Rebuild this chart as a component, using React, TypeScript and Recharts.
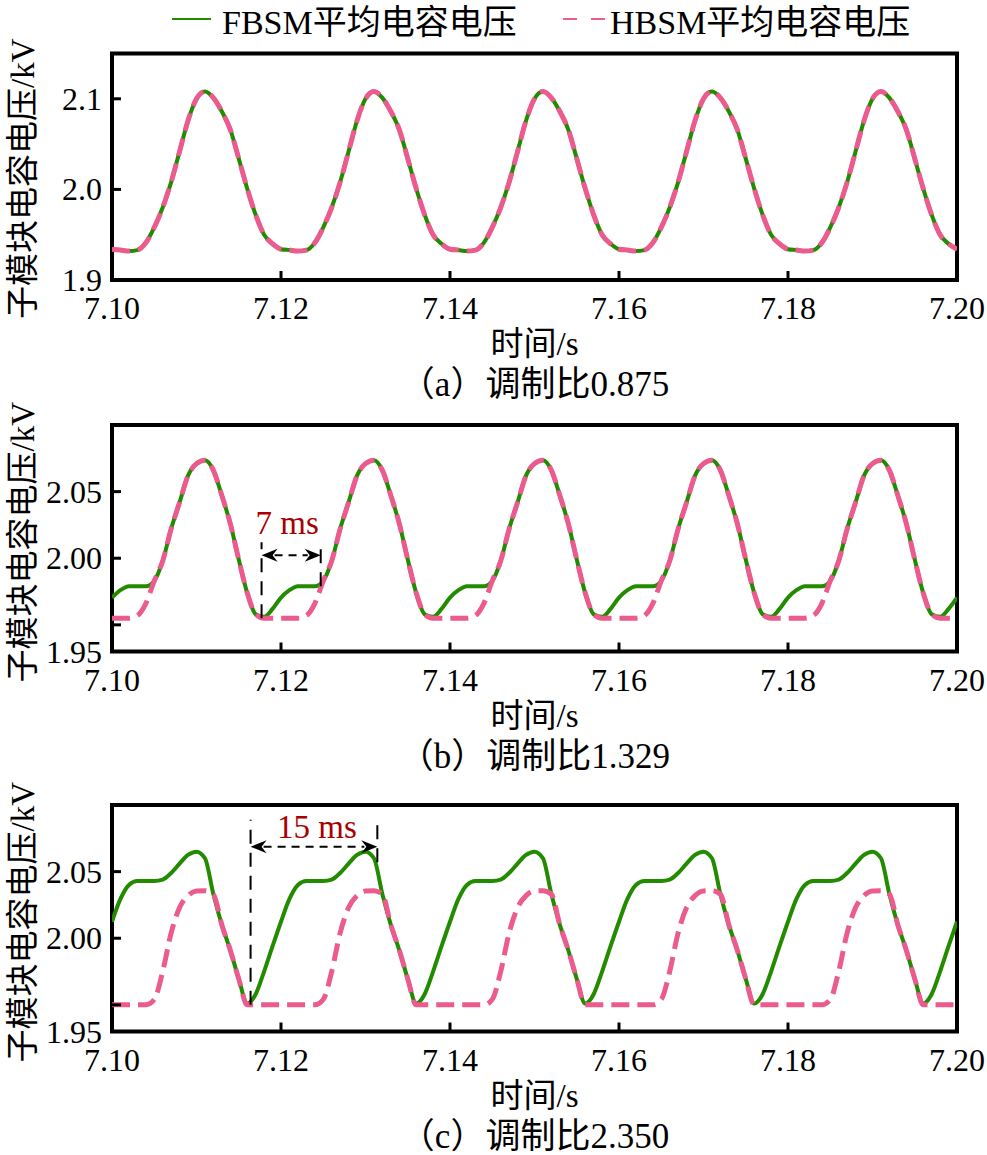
import React from 'react';
import {
  LineChart,
  Line,
  XAxis,
  YAxis,
  ReferenceArea,
  ReferenceLine,
  ReferenceDot,
  Legend,
} from 'recharts';

// ---------- data (time in s, voltage in kV) ----------
const timeS = [
  7.100, 7.101, 7.102, 7.103, 7.104, 7.105, 7.106, 7.107, 7.108, 7.109,
  7.110, 7.111, 7.112, 7.113, 7.114, 7.115, 7.116, 7.117, 7.118, 7.119,
  7.120, 7.121, 7.122, 7.123, 7.124, 7.125, 7.126, 7.127, 7.128, 7.129,
  7.130, 7.131, 7.132, 7.133, 7.134, 7.135, 7.136, 7.137, 7.138, 7.139,
  7.140, 7.141, 7.142, 7.143, 7.144, 7.145, 7.146, 7.147, 7.148, 7.149,
  7.150, 7.151, 7.152, 7.153, 7.154, 7.155, 7.156, 7.157, 7.158, 7.159,
  7.160, 7.161, 7.162, 7.163, 7.164, 7.165, 7.166, 7.167, 7.168, 7.169,
  7.170, 7.171, 7.172, 7.173, 7.174, 7.175, 7.176, 7.177, 7.178, 7.179,
  7.180, 7.181, 7.182, 7.183, 7.184, 7.185, 7.186, 7.187, 7.188, 7.189,
  7.190, 7.191, 7.192, 7.193, 7.194, 7.195, 7.196, 7.197, 7.198, 7.199,
  7.200,
];

// (a) modulation ratio 0.875
const aFbsm = [
  1.934, 1.933, 1.932, 1.933, 1.941, 1.958, 1.980, 2.008, 2.042, 2.076, 2.100, 2.108, 2.101, 2.086, 2.066, 2.034, 2.001, 1.972, 1.950, 1.940,
  1.934, 1.933, 1.932, 1.933, 1.941, 1.958, 1.980, 2.008, 2.042, 2.076, 2.100, 2.108, 2.101, 2.086, 2.066, 2.034, 2.001, 1.972, 1.950, 1.940,
  1.934, 1.933, 1.932, 1.933, 1.941, 1.958, 1.980, 2.008, 2.042, 2.076, 2.100, 2.108, 2.101, 2.086, 2.066, 2.034, 2.001, 1.972, 1.950, 1.940,
  1.934, 1.933, 1.932, 1.933, 1.941, 1.958, 1.980, 2.008, 2.042, 2.076, 2.100, 2.108, 2.101, 2.086, 2.066, 2.034, 2.001, 1.972, 1.950, 1.940,
  1.934, 1.933, 1.932, 1.933, 1.941, 1.958, 1.980, 2.008, 2.042, 2.076, 2.100, 2.108, 2.101, 2.086, 2.066, 2.034, 2.001, 1.972, 1.950, 1.940,
  1.934,
];
const aHbsm = [
  1.934, 1.933, 1.932, 1.933, 1.941, 1.958, 1.980, 2.008, 2.042, 2.076, 2.100, 2.108, 2.101, 2.086, 2.066, 2.034, 2.001, 1.972, 1.950, 1.940,
  1.934, 1.933, 1.932, 1.933, 1.941, 1.958, 1.980, 2.008, 2.042, 2.076, 2.100, 2.108, 2.101, 2.086, 2.066, 2.034, 2.001, 1.972, 1.950, 1.940,
  1.934, 1.933, 1.932, 1.933, 1.941, 1.958, 1.980, 2.008, 2.042, 2.076, 2.100, 2.108, 2.101, 2.086, 2.066, 2.034, 2.001, 1.972, 1.950, 1.940,
  1.934, 1.933, 1.932, 1.933, 1.941, 1.958, 1.980, 2.008, 2.042, 2.076, 2.100, 2.108, 2.101, 2.086, 2.066, 2.034, 2.001, 1.972, 1.950, 1.940,
  1.934, 1.933, 1.932, 1.933, 1.941, 1.958, 1.980, 2.008, 2.042, 2.076, 2.100, 2.108, 2.101, 2.086, 2.066, 2.034, 2.001, 1.972, 1.950, 1.940,
  1.934,
];

// (b) modulation ratio 1.329
const bFbsm = [
  1.9705, 1.976, 1.979, 1.979, 1.979, 1.983, 1.998, 2.022, 2.042, 2.062, 2.071, 2.0735, 2.066, 2.047, 2.026, 1.999, 1.974, 1.958, 1.956, 1.962,
  1.9705, 1.976, 1.979, 1.979, 1.979, 1.983, 1.998, 2.022, 2.042, 2.062, 2.071, 2.0735, 2.066, 2.047, 2.026, 1.999, 1.974, 1.958, 1.956, 1.962,
  1.9705, 1.976, 1.979, 1.979, 1.979, 1.983, 1.998, 2.022, 2.042, 2.062, 2.071, 2.0735, 2.066, 2.047, 2.026, 1.999, 1.974, 1.958, 1.956, 1.962,
  1.9705, 1.976, 1.979, 1.979, 1.979, 1.983, 1.998, 2.022, 2.042, 2.062, 2.071, 2.0735, 2.066, 2.047, 2.026, 1.999, 1.974, 1.958, 1.956, 1.962,
  1.9705, 1.976, 1.979, 1.979, 1.979, 1.983, 1.998, 2.022, 2.042, 2.062, 2.071, 2.0735, 2.066, 2.047, 2.026, 1.999, 1.974, 1.958, 1.956, 1.962,
  1.9705,
];
const bHbsm = [
  1.955, 1.955, 1.955, 1.957, 1.966, 1.983, 1.998, 2.022, 2.042, 2.062, 2.071, 2.0735, 2.066, 2.047, 2.026, 1.999, 1.974, 1.958, 1.955, 1.955,
  1.955, 1.955, 1.955, 1.957, 1.966, 1.983, 1.998, 2.022, 2.042, 2.062, 2.071, 2.0735, 2.066, 2.047, 2.026, 1.999, 1.974, 1.958, 1.955, 1.955,
  1.955, 1.955, 1.955, 1.957, 1.966, 1.983, 1.998, 2.022, 2.042, 2.062, 2.071, 2.0735, 2.066, 2.047, 2.026, 1.999, 1.974, 1.958, 1.955, 1.955,
  1.955, 1.955, 1.955, 1.957, 1.966, 1.983, 1.998, 2.022, 2.042, 2.062, 2.071, 2.0735, 2.066, 2.047, 2.026, 1.999, 1.974, 1.958, 1.955, 1.955,
  1.955, 1.955, 1.955, 1.957, 1.966, 1.983, 1.998, 2.022, 2.042, 2.062, 2.071, 2.0735, 2.066, 2.047, 2.026, 1.999, 1.974, 1.958, 1.955, 1.955,
  1.955,
];

// (c) modulation ratio 2.350
const cFbsm = [
  2.0124, 2.0295, 2.040, 2.043, 2.043, 2.043, 2.044, 2.049, 2.056, 2.0625, 2.065, 2.060, 2.033, 2.010, 1.991, 1.9695, 1.951, 1.958, 1.975, 1.994,
  2.0124, 2.0295, 2.040, 2.043, 2.043, 2.043, 2.044, 2.049, 2.056, 2.0625, 2.065, 2.060, 2.033, 2.010, 1.991, 1.9695, 1.951, 1.958, 1.975, 1.994,
  2.0124, 2.0295, 2.040, 2.043, 2.043, 2.043, 2.044, 2.049, 2.056, 2.0625, 2.065, 2.060, 2.033, 2.010, 1.991, 1.9695, 1.951, 1.958, 1.975, 1.994,
  2.0124, 2.0295, 2.040, 2.043, 2.043, 2.043, 2.044, 2.049, 2.056, 2.0625, 2.065, 2.060, 2.033, 2.010, 1.991, 1.9695, 1.951, 1.958, 1.975, 1.994,
  2.0124, 2.0295, 2.040, 2.043, 2.043, 2.043, 2.044, 2.049, 2.056, 2.0625, 2.065, 2.060, 2.033, 2.010, 1.991, 1.9695, 1.951, 1.958, 1.975, 1.994,
  2.0124,
];
const cHbsm = [
  1.950, 1.950, 1.950, 1.950, 1.950, 1.954, 1.975, 2.004, 2.023, 2.032, 2.0355, 2.0357, 2.033, 2.010, 1.991, 1.9695, 1.950, 1.950, 1.950, 1.950,
  1.950, 1.950, 1.950, 1.950, 1.950, 1.954, 1.975, 2.004, 2.023, 2.032, 2.0355, 2.0357, 2.033, 2.010, 1.991, 1.9695, 1.950, 1.950, 1.950, 1.950,
  1.950, 1.950, 1.950, 1.950, 1.950, 1.954, 1.975, 2.004, 2.023, 2.032, 2.0355, 2.0357, 2.033, 2.010, 1.991, 1.9695, 1.950, 1.950, 1.950, 1.950,
  1.950, 1.950, 1.950, 1.950, 1.950, 1.954, 1.975, 2.004, 2.023, 2.032, 2.0355, 2.0357, 2.033, 2.010, 1.991, 1.9695, 1.950, 1.950, 1.950, 1.950,
  1.950, 1.950, 1.950, 1.950, 1.950, 1.954, 1.975, 2.004, 2.023, 2.032, 2.0355, 2.0357, 2.033, 2.010, 1.991, 1.9695, 1.950, 1.950, 1.950, 1.950,
  1.950,
];

// ---------- axes & text ----------
const xTickValues = [7.10, 7.12, 7.14, 7.16, 7.18, 7.20];
const xTickLabels = ['7.10', '7.12', '7.14', '7.16', '7.18', '7.20'];
const yTicksA = [1.9, 2.0, 2.1];
const yTickLabelsA = ['1.9', '2.0', '2.1'];
const yTicksBC = [1.95, 2.0, 2.05];
const yTickLabelsBC = ['1.95', '2.00', '2.05'];
const seriesNames = ['FBSM平均电容电压', 'HBSM平均电容电压'];
const xTitle = '时间/s';
const yTitle = '子模块电容电压/kV';
const captions = ['（a）调制比0.875', '（b）调制比1.329', '（c）调制比2.350'];

// interval annotations: [start, end] in s, heights in kV
const gapB = { from: 7.1177, to: 7.1247, lowFrom: 1.955, lowTo: 1.979, top: 2.012, arrow: 2.0022, text: 2.018, label: '7 ms' };
const gapC = { from: 7.1164, to: 7.1314, lowFrom: 1.950, lowTo: 2.057, top: 2.089, arrow: 2.0687, text: 2.0752, label: '15 ms' };

// ---------- style ----------
const FONT = "'Liberation Serif', 'Noto Sans CJK SC', serif";
const GREEN = '#228B00';
const PINK = '#EC5B8E';
const NOTE_RED = '#A80000';
const CHART_W = 987;
const Y_AXIS_W = 112;
const RIGHT_GAP = 30;
const PLOT_H = 226.5;
const X_AXIS_H = 140;

const makeRows = (fb: number[], hb: number[]) =>
  timeS.map((t, i) => ({ t, fbsm: fb[i], hbsm: hb[i] }));

const makeXTick = () => (props: any) => {
  const { x, y, index } = props;
  return (
    <g>
      <line x1={x} x2={x} y1={y} y2={y - 9} stroke="#000" strokeWidth={3} />
      <text x={x} y={y + 39} textAnchor="middle" fontFamily={FONT} fontSize={32} fill="#000">
        {xTickLabels[index]}
      </text>
    </g>
  );
};

const makeYTick = (labels: string[], floorY?: number) => (props: any) => {
  const { x, y, index } = props;
  const labelY = floorY !== undefined && index === 0 ? floorY : y;
  return (
    <g>
      <line x1={x} x2={x + 9} y1={y} y2={y} stroke="#000" strokeWidth={3} />
      <text x={x - 10} y={labelY + 11} textAnchor="end" fontFamily={FONT} fontSize={32} fill="#000">
        {labels[index]}
      </text>
    </g>
  );
};

const YTitle = ({ viewBox, shift }: any) => {
  const cx = 34;
  const cy = viewBox.y + viewBox.height / 2 + shift;
  return (
    <text
      x={cx}
      y={cy}
      transform={`rotate(-90, ${cx}, ${cy})`}
      textAnchor="middle"
      fontFamily={FONT}
      fontSize={33}
      fill="#000"
    >
      {yTitle}
    </text>
  );
};

const XTitle = ({ viewBox, caption }: any) => {
  const cx = viewBox.x + viewBox.width / 2;
  return (
    <g>
      <text x={cx} y={viewBox.y + 75} textAnchor="middle" fontFamily={FONT} fontSize={33} fill="#000">
        {xTitle}
      </text>
      <text x={cx} y={viewBox.y + 116} textAnchor="middle" fontFamily={FONT} fontSize={35} fill="#000">
        {caption}
      </text>
    </g>
  );
};

const DoubleArrow = (props: any) => {
  const { x1, y1, x2 } = props;
  const left = Math.min(x1, x2);
  const right = Math.max(x1, x2);
  const y = y1;
  const L = 16;
  const W = 6.5;
  const N = 5;
  return (
    <g>
      <line x1={left + L - 3} x2={right - L + 3} y1={y} y2={y} stroke="#000" strokeWidth={2} strokeDasharray="8 6" />
      <polygon points={`${left},${y} ${left + L},${y - W} ${left + L - N},${y} ${left + L},${y + W}`} fill="#000" />
      <polygon points={`${right},${y} ${right - L},${y - W} ${right - L + N},${y} ${right - L},${y + W}`} fill="#000" />
    </g>
  );
};

const NoteText = (label: string, dx: number) => (props: any) => (
  <text x={props.cx + dx} y={props.cy} textAnchor="middle" fontFamily={FONT} fontSize={33} fill={NOTE_RED}>
    {label}
  </text>
);

const LegendRow = () => (
  <svg width={CHART_W} height={45} style={{ display: 'block' }}>
    <line x1={172} x2={211} y1={19} y2={19} stroke={GREEN} strokeWidth={2} />
    <text x={222} y={34} fontFamily={FONT} fontSize={34} fill="#000">
      {seriesNames[0]}
    </text>
    <line x1={563} x2={605} y1={19} y2={19} stroke={PINK} strokeWidth={2} strokeDasharray="14 14" />
    <text x={610} y={34} fontFamily={FONT} fontSize={34} fill="#000">
      {seriesNames[1]}
    </text>
  </svg>
);

type Gap = typeof gapB;

const Panel = ({
  rows,
  plotTop,
  domain,
  yTicks,
  yLabels,
  lowLabelAtFloor,
  caption,
  titleShift,
  gap,
  noteDx = 0,
  withLegend,
}: {
  rows: { t: number; fbsm: number; hbsm: number }[];
  plotTop: number;
  domain: [number, number];
  yTicks: number[];
  yLabels: string[];
  lowLabelAtFloor: boolean;
  caption: string;
  titleShift: number;
  gap?: Gap;
  noteDx?: number;
  withLegend?: boolean;
}) => {
  const height = plotTop + PLOT_H + X_AXIS_H;
  const floorY = lowLabelAtFloor ? plotTop + PLOT_H : undefined;
  return (
    <LineChart
      width={CHART_W}
      height={height}
      data={rows}
      margin={{ top: plotTop, right: RIGHT_GAP, bottom: 0, left: 0 }}
    >
      <XAxis
        dataKey="t"
        type="number"
        domain={[7.1, 7.2]}
        allowDataOverflow
        ticks={xTickValues}
        interval={0}
        axisLine={false}
        tickLine={false}
        tickSize={0}
        tickMargin={0}
        height={X_AXIS_H}
        tick={makeXTick()}
        label={{ content: (p: any) => <XTitle viewBox={p.viewBox} caption={caption} /> }}
      />
      <YAxis
        type="number"
        domain={domain}
        allowDataOverflow
        ticks={yTicks}
        interval={0}
        axisLine={false}
        tickLine={false}
        tickSize={0}
        tickMargin={0}
        width={Y_AXIS_W}
        tick={makeYTick(yLabels, floorY)}
        label={{ content: (p: any) => <YTitle viewBox={p.viewBox} shift={titleShift} /> }}
      />
      {withLegend && (
        <Legend
          verticalAlign="middle"
          align="center"
          layout="horizontal"
          wrapperStyle={{ top: 0, left: 0, width: CHART_W, height: 45 }}
          content={() => <LegendRow />}
        />
      )}
      <Line
        type="monotone"
        dataKey="fbsm"
        name={seriesNames[0]}
        stroke={GREEN}
        strokeWidth={4}
        dot={false}
        activeDot={false}
        isAnimationActive={false}
      />
      <Line
        type="monotone"
        dataKey="hbsm"
        name={seriesNames[1]}
        stroke={PINK}
        strokeWidth={5}
        strokeDasharray="18 8"
        dot={false}
        activeDot={false}
        isAnimationActive={false}
      />
      {gap && (
        <ReferenceLine
          segment={[{ x: gap.from, y: gap.lowFrom }, { x: gap.from, y: gap.top }]}
          stroke="#000"
          strokeWidth={2}
          strokeDasharray="14 9"
        />
      )}
      {gap && (
        <ReferenceLine
          segment={[{ x: gap.to, y: gap.lowTo }, { x: gap.to, y: gap.top }]}
          stroke="#000"
          strokeWidth={2}
          strokeDasharray="14 9"
        />
      )}
      {gap && (
        <ReferenceLine
          segment={[{ x: gap.from, y: gap.arrow }, { x: gap.to, y: gap.arrow }]}
          shape={DoubleArrow}
        />
      )}
      {gap && (
        <ReferenceDot
          x={(gap.from + gap.to) / 2}
          y={gap.text}
          r={0}
          shape={NoteText(gap.label, noteDx)}
        />
      )}
      <ReferenceArea
        x1={7.1}
        x2={7.2}
        y1={domain[0]}
        y2={domain[1]}
        fill="none"
        fillOpacity={0}
        stroke="#000"
        strokeWidth={4}
      />
    </LineChart>
  );
};

export default function App() {
  const panels = [
    { top: 0, plotTop: 53.5 },
    { top: 390, plotTop: 35 },
    { top: 770, plotTop: 35 },
  ];
  return (
    <div style={{ position: 'absolute', left: 0, top: 0, width: CHART_W, height: 1155, background: '#fff', overflow: 'hidden' }}>
      <div style={{ position: 'absolute', left: 0, top: panels[0].top }}>
        <Panel
          rows={makeRows(aFbsm, aHbsm)}
          plotTop={panels[0].plotTop}
          domain={[1.9, 2.15]}
          yTicks={yTicksA}
          yLabels={yTickLabelsA}
          lowLabelAtFloor={false}
          caption={captions[0]}
          titleShift={12}
          withLegend
        />
      </div>
      <div style={{ position: 'absolute', left: 0, top: panels[1].top }}>
        <Panel
          rows={makeRows(bFbsm, bHbsm)}
          plotTop={panels[1].plotTop}
          domain={[1.93, 2.1]}
          yTicks={yTicksBC}
          yLabels={yTickLabelsBC}
          lowLabelAtFloor
          caption={captions[1]}
          titleShift={4}
          gap={gapB}
          noteDx={-4}
        />
      </div>
      <div style={{ position: 'absolute', left: 0, top: panels[2].top }}>
        <Panel
          rows={makeRows(cFbsm, cHbsm)}
          plotTop={panels[2].plotTop}
          domain={[1.93, 2.1]}
          yTicks={yTicksBC}
          yLabels={yTickLabelsBC}
          lowLabelAtFloor
          caption={captions[2]}
          titleShift={4}
          gap={gapC}
          noteDx={3}
        />
      </div>
    </div>
  );
}
